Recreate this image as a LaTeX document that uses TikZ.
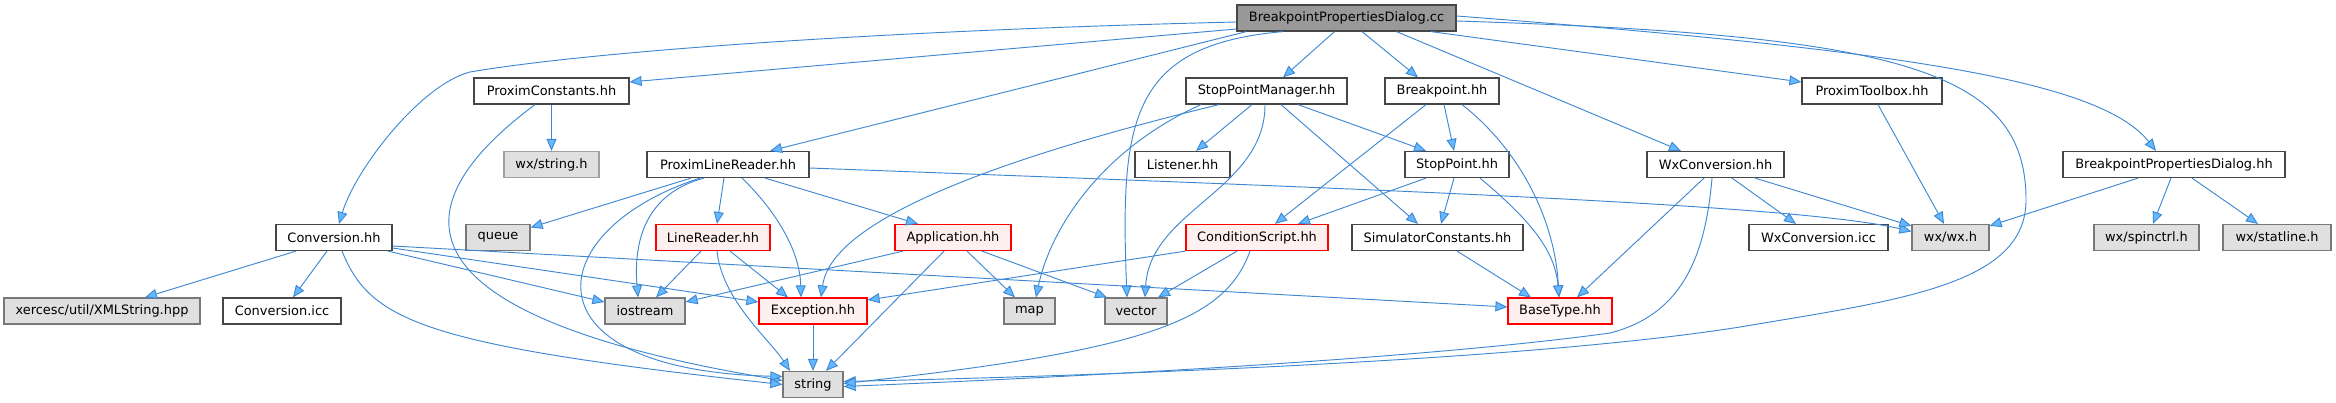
\documentclass[tikz,border=0pt]{standalone}
\usepackage{fontspec}
\setmainfont{DejaVu Sans}
\usepackage{xcolor}
\definecolor{edgeblue}{RGB}{62,136,210}
\definecolor{tipblue}{RGB}{99,184,255}
\definecolor{rootgray}{RGB}{153,153,153}
\definecolor{sysgray}{RGB}{224,224,224}
\definecolor{sysline}{RGB}{120,120,120}
\definecolor{cutred}{RGB}{255,240,240}
\definecolor{boxline}{RGB}{70,70,70}
\usetikzlibrary{arrows.meta, calc}

\begin{document}
\begin{tikzpicture}[x=0.75pt, y=-0.75pt,
  filebox/.style={draw=boxline, fill=white, line width=0.9pt, minimum height=19.5pt, inner sep=0pt, font=\fontsize{9.7}{11}\selectfont},
  rootbox/.style={filebox, fill=rootgray},
  sysbox/.style={filebox, fill=sysgray, draw=sysline},
  cutbox/.style={filebox, fill=cutred, draw=red},
  wd/.style={minimum width=#1*0.75pt},
  dep/.style={draw=edgeblue, line width=0.7pt, -{Triangle[length=9pt, width=7.5pt, fill=tipblue]}}]
  \useasboundingbox (0,0) rectangle (2336,403);

  % Row 0
  \node[rootbox, wd=219] (main) at (1346.5,18) {BreakpointPropertiesDialog.cc};

  % Row 1
  \node[filebox, wd=155] (pconst) at (551.5,91) {ProximConstants.hh};
  \node[filebox, wd=161] (spm) at (1266.5,91) {StopPointManager.hh};
  \node[filebox, wd=114] (bp) at (1442,91) {Breakpoint.hh};
  \node[filebox, wd=140] (ptool) at (1872,91) {ProximToolbox.hh};

  % Row 2
  \node[sysbox, wd=95, draw=sysline!70] (wxstr) at (551.5,164.5) {wx/string.h};
  \node[filebox, wd=162] (plr) at (728,164.5) {ProximLineReader.hh};
  \node[filebox, wd=95] (lis) at (1182.5,164.5) {Listener.hh};
  \node[filebox, wd=104] (sp) at (1457,164.5) {StopPoint.hh};
  \node[filebox, wd=137] (wxconv) at (1715.5,164.5) {WxConversion.hh};
  \node[filebox, wd=222] (bpdh) at (2174,164.5) {BreakpointPropertiesDialog.hh};

  % Row 3
  \node[filebox, wd=116] (conv) at (334,237.5) {Conversion.hh};
  \node[sysbox, wd=64] (queue) at (498,237.5) {queue};
  \node[cutbox, wd=114] (lr) at (713,237.5) {LineReader.hh};
  \node[cutbox, wd=116] (app) at (953,237.5) {Application.hh};
  \node[cutbox, wd=142] (cs) at (1257,237.5) {ConditionScript.hh};
  \node[filebox, wd=171] (simc) at (1437.5,237.5) {SimulatorConstants.hh};
  \node[filebox, wd=139] (wxicc) at (1818.5,237.5) {WxConversion.icc};
  \node[sysbox, wd=77] (wxwx) at (1950.5,237.5) {wx/wx.h};
  \node[sysbox, wd=105] (spin) at (2146.5,237.5) {wx/spinctrl.h};
  \node[sysbox, wd=108] (statl) at (2277,237.5) {wx/statline.h};

  % Row 4
  \node[sysbox, wd=196] (xerces) at (102,311) {xercesc/util/XMLString.hpp};
  \node[filebox, wd=118] (convicc) at (282,311) {Conversion.icc};
  \node[sysbox, wd=80] (ios) at (645,311) {iostream};
  \node[cutbox, wd=108] (exc) at (813,311) {Exception.hh};
  \node[sysbox, wd=51] (map) at (1029.5,311) {map};
  \node[sysbox, wd=62] (vec) at (1136,311) {vector};
  \node[cutbox, wd=104] (bt) at (1560,311) {BaseType.hh};

  % Row 5
  \node[sysbox, wd=60] (str) at (813,384.5) {string};

  % BreakpointPropertiesDialog.cc
  \draw[dep] ($(main.west)+(0,4)$) .. controls (900,30) and (600,50) .. (470,72) .. controls (420,85) and (355,170) .. ($(conv.north)+(5,0)$);
  \draw[dep] ($(main.west)+(0,11)$) -- ($(pconst.east)+(0,-9)$);
  \draw[dep] ($(main.south west)+(10,0)$) -- ($(plr.north)+(42,0)$);
  \draw[dep] ($(main.south)+(-63.5,0)$) .. controls (1130,45) and (1120,120) .. ($(vec.north)+(-9,0)$);
  \draw[dep] ($(main.south)+(-12,0)$) -- ($(spm.north)+(16.5,0)$);
  \draw[dep] ($(main.south)+(15.5,0)$) -- ($(bp.north)+(-24,0)$);
  \draw[dep] ($(main.south)+(50,0)$) -- ($(wxconv.north)+(-34.5,0)$);
  \draw[dep] ($(main.south)+(84.5,0)$) -- ($(ptool.west)+(0,-9)$);
  \draw[dep] ($(main.east)+(0,3)$) .. controls (1900,35) and (2026,70) .. (2026,200) .. controls (2026,285) and (1900,300) .. (1740,327) .. controls (1500,365) and (1000,378) .. ($(str.east)+(0,-3)$);
  \draw[dep] ($(main.east)+(0,-2)$) .. controls (1900,50) and (2100,80) .. ($(bpdh.north)+(-18,0)$);

  % ProximConstants.hh
  \draw[dep] (pconst) -- (wxstr);
  \draw[dep] ($(pconst.south)+(-16.5,0)$) .. controls (380,220) and (420,320) .. ($(str.west)+(0,-4)$);

  % ProximLineReader.hh
  \draw[dep] ($(plr.south)+(-37,0)$) -- ($(queue.east)+(0,-10)$);
  \draw[dep] ($(plr.south)+(-24,0)$) .. controls (640,195) and (634,250) .. ($(ios.north)+(-7,0)$);
  \draw[dep] ($(plr.south)+(-28,0)$) .. controls (540,230) and (520,370) .. ($(str.west)+(0,-8)$);
  \draw[dep] ($(plr.south)+(-4,0)$) -- ($(lr.north)+(4,0)$);
  \draw[dep] ($(plr.south)+(14,0)$) .. controls (775,210) and (800,250) .. ($(exc.north)+(-12,0)$);
  \draw[dep] ($(plr.south)+(37,0)$) -- ($(app.north)+(-35,0)$);
  \draw[dep] ($(plr.east)+(0,3.5)$) .. controls (1400,190) and (1800,205) .. ($(wxwx.west)+(0,-6)$);

  % StopPointManager.hh
  \draw[dep] ($(spm.south)+(-47.5,0)$) .. controls (950,170) and (830,230) .. ($(exc.north)+(8,0)$);
  \draw[dep] ($(spm.south)+(-65.5,0)$) .. controls (1100,150) and (1050,230) .. ($(map.north)+(6.5,0)$);
  \draw[dep] ($(spm.south)+(-14.5,0)$) -- ($(lis.north)+(13.5,0)$);
  \draw[dep] ($(spm.south)+(-1.5,0)$) .. controls (1265,190) and (1150,210) .. ($(vec.north)+(9,0)$);
  \draw[dep] ($(spm.south)+(31.5,0)$) -- ($(sp.north)+(-31,0)$);
  \draw[dep] ($(spm.south)+(14.5,0)$) -- ($(simc.north)+(-19.5,0)$);

  % Breakpoint.hh, StopPoint.hh
  \draw[dep] ($(bp.south)+(-16,0)$) -- ($(cs.north)+(18,0)$);
  \draw[dep] ($(bp.south)+(2,0)$) -- ($(sp.north)+(-3,0)$);
  \draw[dep] ($(bp.south)+(20,0)$) .. controls (1520,150) and (1555,220) .. ($(bt.north)+(-1,0)$);
  \draw[dep] ($(sp.south)+(-31,0)$) -- ($(cs.north)+(41,0)$);
  \draw[dep] ($(sp.south)+(-3,0)$) -- ($(simc.north)+(3.5,0)$);
  \draw[dep] ($(sp.south)+(23,0)$) .. controls (1530,220) and (1555,250) .. ($(bt.north)+(-1,0)$);

  % ProximToolbox.hh, WxConversion.hh, BreakpointPropertiesDialog.hh
  \draw[dep] ($(ptool.south)+(6,0)$) -- ($(wxwx.north)+(-6.5,0)$);
  \draw[dep] ($(wxconv.south)+(-11.5,0)$) -- ($(bt.north)+(17,0)$);
  \draw[dep] ($(wxconv.south)+(-3.5,0)$) .. controls (1705,260) and (1680,315) .. (1610,333) .. controls (1400,362) and (1000,380) .. ($(str.east)+(0,2)$);
  \draw[dep] ($(wxconv.south)+(16.5,0)$) -- ($(wxicc.north)+(-22.5,0)$);
  \draw[dep] ($(wxconv.south)+(39.5,0)$) -- ($(wxwx.north west)+(0,2)$);
  \draw[dep] ($(bpdh.south)+(-36,0)$) -- ($(wxwx.north east)+(0,2)$);
  \draw[dep] ($(bpdh.south)+(-3,0)$) -- ($(spin.north)+(6.5,0)$);
  \draw[dep] ($(bpdh.south)+(18,0)$) -- ($(statl.north)+(-19,0)$);

  % Conversion.hh
  \draw[dep] ($(conv.south)+(-38,0)$) -- ($(xerces.north)+(43,0)$);
  \draw[dep] ($(conv.south)+(-7,0)$) -- ($(convicc.north)+(11,0)$);
  \draw[dep] ($(conv.south)+(8,0)$) .. controls (370,320) and (420,345) .. (str.west);
  \draw[dep] ($(conv.south)+(54,0)$) -- ($(ios.west)+(0,-9)$);
  \draw[dep] ($(conv.east)+(0,10.5)$) -- ($(exc.west)+(0,-9)$);
  \draw[dep] ($(conv.east)+(0,8.5)$) -- ($(bt.west)+(0,-4)$);

  % LineReader.hh, Application.hh
  \draw[dep] ($(lr.south)+(-12,0)$) -- ($(ios.north)+(11,0)$);
  \draw[dep] ($(lr.south)+(17,0)$) -- ($(exc.north)+(-25,0)$);
  \draw[dep] ($(lr.south)+(4,0)$) .. controls (722,300) and (770,340) .. ($(str.north)+(-23,0)$);
  \draw[dep] ($(app.south)+(-50,0)$) -- ($(ios.east)+(0,-9)$);
  \draw[dep] ($(app.south)+(-9,0)$) -- ($(str.north)+(13,0)$);
  \draw[dep] ($(app.south)+(14,0)$) -- ($(map.north)+(-14.5,0)$);
  \draw[dep] ($(app.south)+(29,0)$) -- ($(vec.north)+(-29,0)$);

  % ConditionScript.hh, SimulatorConstants.hh, Exception.hh
  \draw[dep] (cs.south west) -- ($(exc.east)+(0,-11)$);
  \draw[dep] ($(cs.south)+(-20,0)$) -- ($(vec.north)+(22,0)$);
  \draw[dep] ($(cs.south)+(-7,0)$) .. controls (1225,320) and (1150,350) .. ($(str.east)+(0,-1)$);
  \draw[dep] ($(simc.south)+(19.5,0)$) -- ($(bt.north)+(-29,0)$);
  \draw[dep] (exc) -- (str);
\end{tikzpicture}
\end{document}
